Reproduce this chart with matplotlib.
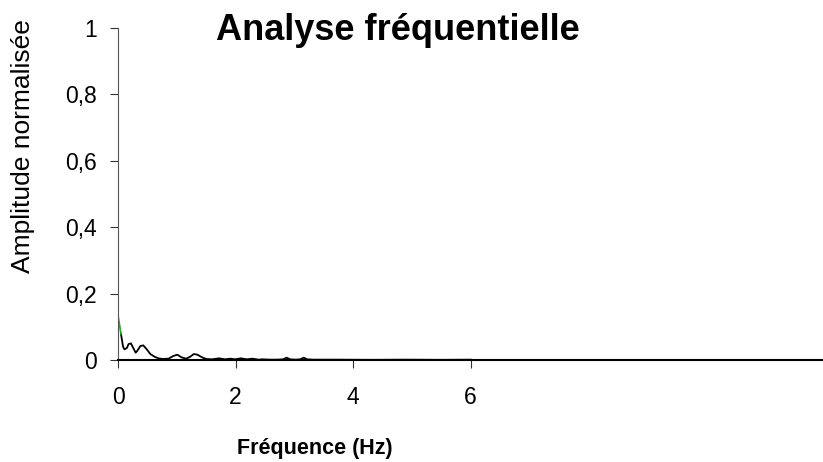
import numpy as np
import matplotlib.pyplot as plt

plt.rcParams['font.family'] = ['Liberation Sans', 'DejaVu Sans']

# first segment (green), then the rest of the spectrum (black)
freq_start = [0.0, 0.05]
amp_start = [0.133, 0.079]

freq = [0.05, 0.086, 0.11, 0.15, 0.18, 0.22, 0.26, 0.30, 0.33, 0.38, 0.43, 0.49, 0.55,
        0.62, 0.69, 0.76, 0.86, 0.94, 1.01, 1.08, 1.16, 1.23, 1.29, 1.35, 1.43, 1.50,
        1.60, 1.72, 1.82, 1.91, 1.99, 2.09, 2.19, 2.29, 2.39, 2.46, 2.58, 2.71,
        2.81, 2.87, 2.93, 3.03, 3.10, 3.16, 3.22, 3.32, 3.7, 4.3, 4.9, 5.5, 6.0]
amp = [0.079, 0.040, 0.032, 0.036, 0.048, 0.050, 0.036, 0.022, 0.028, 0.042, 0.044, 0.032, 0.018,
       0.010, 0.005, 0.003, 0.004, 0.012, 0.016, 0.008, 0.004, 0.010, 0.018, 0.016, 0.008, 0.003,
       0.002, 0.005, 0.002, 0.004, 0.002, 0.005, 0.002, 0.004, 0.001, 0.002, 0.001, 0.001,
       0.002, 0.007, 0.002, 0.001, 0.002, 0.007, 0.002, 0.001, 0.001, 0.0005, 0.001, 0.0005, 0.001]

xticks = [0, 2, 4, 6]
yticks = [0, 0.2, 0.4, 0.6, 0.8, 1]
ytick_labels = ['0', '0,2', '0,4', '0,6', '0,8', '1']

fig = plt.figure(figsize=(8.23, 4.62), dpi=100)
ax = fig.add_axes([0.1434, 0.2208, 0.8566, 0.7186])

ax.plot(freq, amp, color='black', lw=1.3)
ax.plot(freq_start, amp_start, color='#22aa22', lw=1.3)

ax.set_xlim(0, 12)
ax.set_ylim(0, 1)
ax.set_xticks(xticks)
ax.set_xticklabels([str(t) for t in xticks])
ax.set_yticks(yticks)
ax.set_yticklabels(ytick_labels)
ax.tick_params(axis='both', labelsize=16.5, direction='out', length=6, color='#333333')
ax.tick_params(axis='x', pad=13)
ax.tick_params(axis='y', pad=9)

ax.spines['top'].set_visible(False)
ax.spines['right'].set_visible(False)
ax.spines['left'].set_color('#555555')
ax.spines['bottom'].set_color('black')
ax.spines['bottom'].set_linewidth(1.5)

ax.set_ylabel('Amplitude normalisée', fontsize=19)
ax.yaxis.set_label_coords(-0.118, 0.645)
ax.set_xlabel('Fréquence (Hz)', fontsize=15.5, fontweight='bold')
ax.xaxis.set_label_coords(0.279, -0.235)
fig.text(0.484, 0.935, 'Analyse fréquentielle', fontsize=26, fontweight='bold',
         ha='center', va='center')

fig.savefig('out.png', dpi=100)
